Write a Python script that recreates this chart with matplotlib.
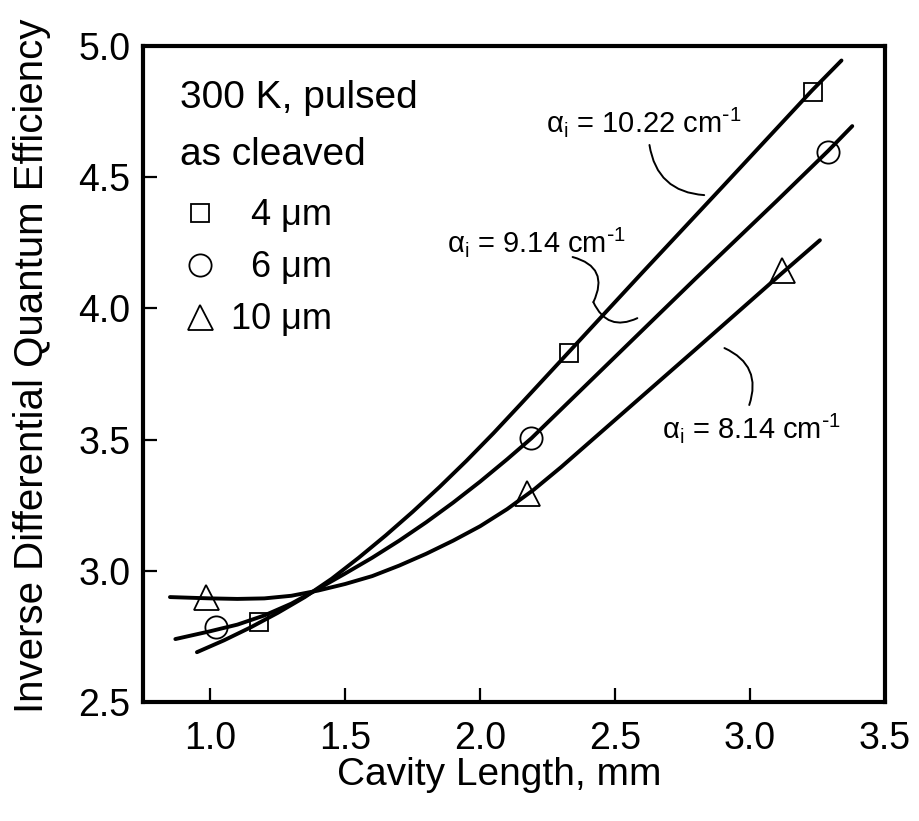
import matplotlib
matplotlib.use("Agg")
import matplotlib.pyplot as plt

plt.rcParams['font.family'] = ['Liberation Sans', 'DejaVu Sans']
plt.rcParams['mathtext.default'] = 'regular'

# measured points (cavity length in mm, inverse efficiency)
sq_x = [1.18, 2.33, 3.235]
sq_y = [2.805, 3.83, 4.825]
ci_x = [1.02, 2.19, 3.29]
ci_y = [2.785, 3.505, 4.595]
tr_x = [0.983, 2.175, 3.12]
tr_y = [2.90, 3.295, 4.146]

# fitted curves
fit_sq_x = [0.95, 1.05, 1.15, 1.25, 1.35, 1.45, 1.55, 1.65, 1.75, 1.85, 1.95, 2.05, 2.15,
            2.33, 2.60, 2.90, 3.23, 3.34]
fit_sq_y = [2.69, 2.735, 2.785, 2.84, 2.90, 2.97, 3.05, 3.135, 3.225, 3.32, 3.42, 3.525, 3.635,
            3.835, 4.135, 4.465, 4.83, 4.945]
fit_ci_x = [0.87, 1.00, 1.10, 1.20, 1.30, 1.38, 1.50, 1.60, 1.70, 1.80, 1.90, 2.00, 2.10,
            2.19, 2.50, 2.80, 3.10, 3.29, 3.38]
fit_ci_y = [2.74, 2.77, 2.795, 2.83, 2.875, 2.92, 2.99, 3.05, 3.115, 3.185, 3.26, 3.34, 3.425,
            3.505, 3.815, 4.115, 4.41, 4.60, 4.695]
fit_tr_x = [0.85, 1.00, 1.10, 1.20, 1.30, 1.40, 1.50, 1.60, 1.70, 1.80, 1.90, 2.00, 2.10,
            2.20, 2.30, 2.45, 2.80, 3.12, 3.26]
fit_tr_y = [2.90, 2.895, 2.893, 2.895, 2.905, 2.925, 2.95, 2.98, 3.02, 3.065, 3.115, 3.17, 3.235,
            3.31, 3.395, 3.53, 3.845, 4.135, 4.26]

labels = ['  4 \u03bcm', '  6 \u03bcm', '10 \u03bcm']
alpha_labels = [r'$\alpha_i$ = 10.22 cm$^{\text{-}1}$', r'$\alpha_i$ = 9.14 cm$^{\text{-}1}$',
                r'$\alpha_i$ = 8.14 cm$^{\text{-}1}$']
alpha_pos = [(2.246, 4.672), (1.876, 4.215), (2.676, 3.506)]

fig = plt.figure(figsize=(9.19, 8.21), dpi=100)
ax = fig.add_axes([0.1556, 0.1449, 0.807, 0.799])

for fx, fy in [(fit_sq_x, fit_sq_y), (fit_ci_x, fit_ci_y), (fit_tr_x, fit_tr_y)]:
    ax.plot(fx, fy, color='black', lw=2.8, solid_capstyle='round', solid_joinstyle='round')

h1, = ax.plot(sq_x, sq_y, ls='none', marker='s', ms=13, mfc='none', mec='black', mew=1.3)
h2, = ax.plot(ci_x, ci_y, ls='none', marker='o', ms=16, mfc='none', mec='black', mew=1.3)
h3, = ax.plot(tr_x, tr_y, ls='none', marker='^', ms=18, mfc='none', mec='black', mew=1.3)

ax.text(0.887, 4.764, '300 K, pulsed', fontsize=28, ha='left', va='baseline')
ax.text(0.887, 4.546, 'as cleaved', fontsize=28, ha='left', va='baseline')
ax.legend([h1, h2, h3], labels, loc='upper left', bbox_to_anchor=(0.053, 0.768),
          frameon=False, fontsize=26, handlelength=1.0, handletextpad=0.35,
          labelspacing=0.47, borderpad=0, borderaxespad=0)

for txt, (tx, ty) in zip(alpha_labels, alpha_pos):
    ax.text(tx, ty, txt, fontsize=21, ha='left', va='baseline')

# leader lines from labels to curves
lead = dict(arrowstyle='-', lw=1.4, color='black', shrinkA=0, shrinkB=0)
ax.annotate('', xy=(2.831, 4.432), xytext=(2.628, 4.623),
            arrowprops=dict(lead, connectionstyle='arc3,rad=0.4'))
ax.annotate('', xy=(2.420, 4.024), xytext=(2.343, 4.196),
            arrowprops=dict(lead, connectionstyle='arc3,rad=-0.6'))
ax.annotate('', xy=(2.583, 3.963), xytext=(2.420, 4.024),
            arrowprops=dict(lead, connectionstyle='arc3,rad=0.5'))
ax.annotate('', xy=(2.998, 3.632), xytext=(2.906, 3.849),
            arrowprops=dict(lead, connectionstyle='arc3,rad=-0.45'))

ax.set_xlim(0.75, 3.5)
ax.set_ylim(2.5, 5.0)
ax.set_xticks([1.0, 1.5, 2.0, 2.5, 3.0, 3.5])
ax.set_yticks([2.5, 3.0, 3.5, 4.0, 4.5, 5.0])
ax.tick_params(axis='both', direction='in', length=10, width=1.6, labelsize=27)
ax.tick_params(axis='x', pad=14)
ax.tick_params(axis='y', pad=9)
for s in ax.spines.values():
    s.set_linewidth(3)

ax.set_xlabel('Cavity Length, mm', fontsize=28, labelpad=0)
ax.xaxis.label.set_x(0.481)
ax.set_ylabel('Inverse Differential Quantum Efficiency', fontsize=29, labelpad=20)
ax.yaxis.label.set_y(0.512)

fig.savefig('out.png', dpi=100)
